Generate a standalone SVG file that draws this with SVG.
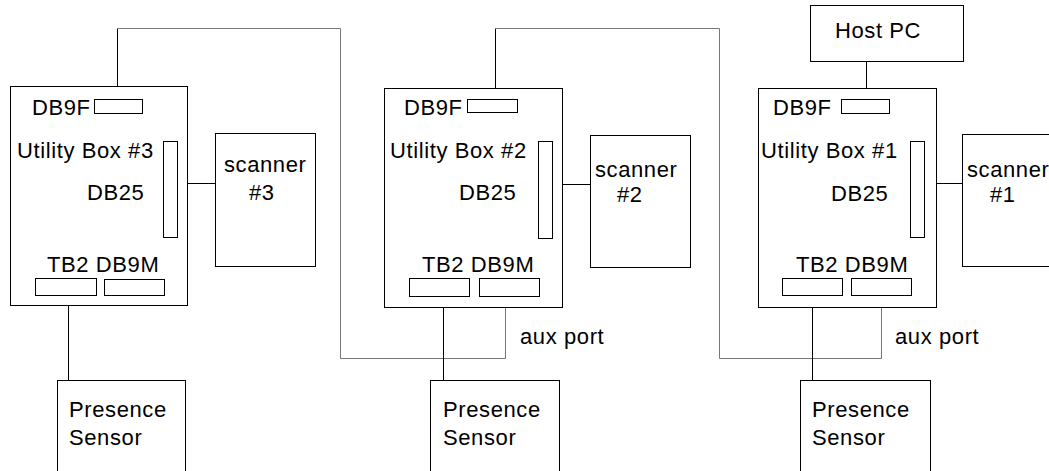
<svg xmlns="http://www.w3.org/2000/svg" width="1049" height="471" viewBox="0 0 1049 471">
<style>
.b{fill:#fff;stroke:#000;stroke-width:1}
.c{fill:none;stroke:#000;stroke-width:1}
.g{fill:none;stroke:#777;stroke-width:1}
text{font-family:"Liberation Sans",Arial,sans-serif;font-size:22px;letter-spacing:0.6px;fill:#000}
</style>
<rect width="1049" height="471" fill="#fff"/>
<g id="connectors">
<polyline class="c" points="117.5,99 117.5,28.5"/>
<polyline class="g" points="117.5,28.5 340.5,28.5 340.5,358.5 505.5,358.5 505.5,296"/>
<polyline class="c" points="495.5,99 495.5,28.5"/>
<polyline class="g" points="495.5,28.5 719.5,28.5 719.5,358.5 881.5,358.5 881.5,296"/>
<line class="c" x1="866.5" y1="61" x2="866.5" y2="99"/>
<line class="c" x1="177" y1="183.5" x2="215" y2="183.5"/>
<line class="c" x1="552" y1="184.5" x2="590" y2="184.5"/>
<line class="c" x1="924" y1="183.5" x2="962" y2="183.5"/>
<line class="c" x1="68.5" y1="295" x2="68.5" y2="380"/>
<line class="c" x1="443.5" y1="296" x2="443.5" y2="380"/>
<line class="c" x1="812.5" y1="296" x2="812.5" y2="380"/>
</g>
<g id="box3">
<rect class="b" x="10.5" y="86.5" width="177" height="219"/>
<rect class="b" x="94.5" y="99.5" width="48" height="14"/>
<rect class="b" x="163.5" y="141.5" width="14" height="96"/>
<rect class="b" x="35.5" y="278.5" width="61" height="17"/>
<rect class="b" x="104.5" y="279.5" width="60" height="16"/>
<text x="32" y="115">DB9F</text>
<text x="17" y="158">Utility Box #3</text>
<text x="87" y="200">DB25</text>
<text x="47" y="272">TB2 DB9M</text>
</g>
<g id="scanner3">
<rect class="b" x="215.5" y="133.5" width="100" height="133"/>
<text x="224" y="172">scanner</text>
<text x="249" y="200">#3</text>
</g>
<g id="box2">
<rect class="b" x="384.5" y="88.5" width="178" height="219"/>
<rect class="b" x="467.5" y="99.5" width="50" height="13"/>
<rect class="b" x="538.5" y="141.5" width="14" height="97"/>
<rect class="b" x="409.5" y="278.5" width="60" height="18"/>
<rect class="b" x="479.5" y="278.5" width="60" height="18"/>
<text x="404" y="115">DB9F</text>
<text x="390" y="158">Utility Box #2</text>
<text x="459" y="200">DB25</text>
<text x="422" y="272">TB2 DB9M</text>
</g>
<g id="scanner2">
<rect class="b" x="590.5" y="135.5" width="100" height="132"/>
<text x="595" y="177">scanner</text>
<text x="617" y="202">#2</text>
</g>
<g id="hostpc">
<rect class="b" x="810.5" y="5.5" width="153" height="56"/>
<text x="835" y="38">Host PC</text>
</g>
<g id="box1">
<rect class="b" x="758.5" y="88.5" width="178" height="219"/>
<rect class="b" x="841.5" y="99.5" width="48" height="14"/>
<rect class="b" x="910.5" y="141.5" width="14" height="96"/>
<rect class="b" x="782.5" y="278.5" width="60" height="17"/>
<rect class="b" x="851.5" y="278.5" width="60" height="17"/>
<text x="773" y="115">DB9F</text>
<text x="761" y="158">Utility Box #1</text>
<text x="831" y="201">DB25</text>
<text x="796" y="272">TB2 DB9M</text>
</g>
<g id="scanner1">
<rect class="b" x="962.5" y="134.5" width="100" height="132"/>
<text x="967" y="177">scanner</text>
<text x="990" y="202">#1</text>
</g>
<text x="520" y="344">aux port</text>
<text x="895" y="344">aux port</text>
<g id="sensor3">
<rect class="b" x="57.5" y="380.5" width="128" height="100"/>
<text x="69" y="417">Presence</text>
<text x="69" y="445">Sensor</text>
</g>
<g id="sensor2">
<rect class="b" x="430.5" y="380.5" width="129" height="100"/>
<text x="443" y="417">Presence</text>
<text x="443" y="445">Sensor</text>
</g>
<g id="sensor1">
<rect class="b" x="800.5" y="380.5" width="130" height="100"/>
<text x="812" y="417">Presence</text>
<text x="812" y="445">Sensor</text>
</g>
</svg>
